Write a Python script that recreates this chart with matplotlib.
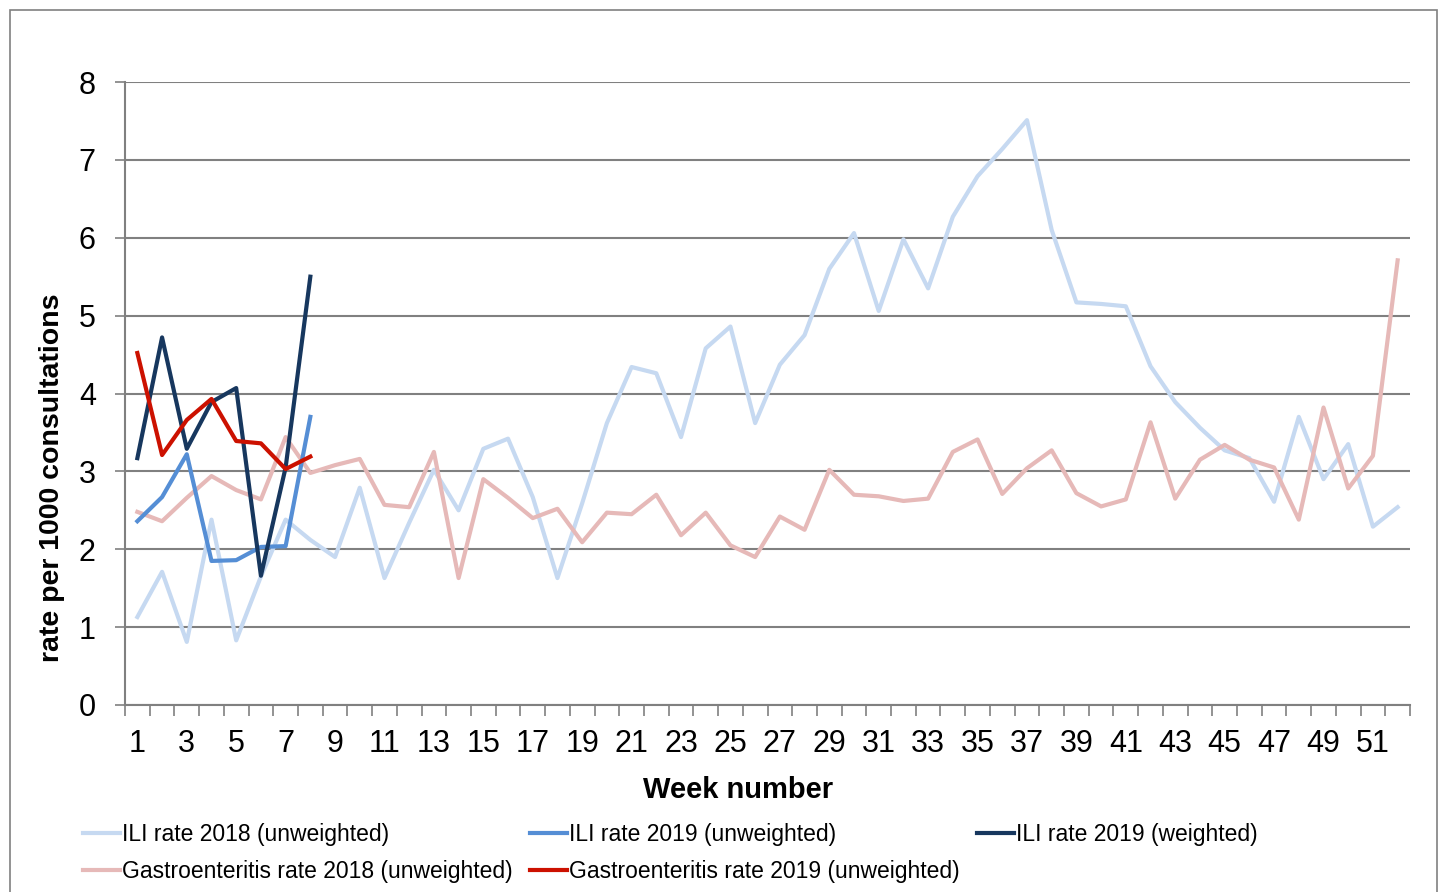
import matplotlib
matplotlib.use("Agg")
import matplotlib.pyplot as plt
from matplotlib.patches import Rectangle
from matplotlib.ticker import MultipleLocator, FixedLocator
from matplotlib import font_manager

weeks = list(range(1, 53))
weeks_2019 = list(range(1, 9))

ili_2018 = [1.13, 1.71, 0.81, 2.38, 0.83, 1.65, 2.38, 2.12, 1.90, 2.79,
            1.63, 2.34, 3.02, 2.50, 3.29, 3.42, 2.67, 1.63, 2.59, 3.62,
            4.34, 4.26, 3.44, 4.58, 4.86, 3.62, 4.37, 4.75, 5.60, 6.06,
            5.06, 5.98, 5.35, 6.27, 6.79, 7.14, 7.51, 6.10, 5.17, 5.15,
            5.12, 4.35, 3.89, 3.56, 3.27, 3.17, 2.61, 3.70, 2.90, 3.35,
            2.29, 2.54]
gastro_2018 = [2.48, 2.36, 2.66, 2.94, 2.76, 2.64, 3.44, 2.98, 3.08, 3.16,
               2.57, 2.54, 3.25, 1.63, 2.90, 2.66, 2.40, 2.52, 2.09, 2.47,
               2.45, 2.70, 2.18, 2.47, 2.05, 1.90, 2.42, 2.25, 3.02, 2.70,
               2.68, 2.62, 2.65, 3.25, 3.41, 2.71, 3.04, 3.27, 2.72, 2.55,
               2.64, 3.63, 2.65, 3.15, 3.34, 3.15, 3.05, 2.38, 3.82, 2.78,
               3.20, 5.71]
ili_2019_unw = [2.36, 2.67, 3.22, 1.85, 1.86, 2.03, 2.04, 3.70]
ili_2019_w = [3.17, 4.72, 3.29, 3.89, 4.07, 1.66, 3.05, 5.50]
gastro_2019 = [4.52, 3.21, 3.66, 3.93, 3.39, 3.36, 3.03, 3.19]

labels = ["ILI rate 2018 (unweighted)", "ILI rate 2019 (unweighted)",
          "ILI rate 2019 (weighted)", "Gastroenteritis rate 2018 (unweighted)",
          "Gastroenteritis rate 2019 (unweighted)"]
colors = ["#c6d9f1", "#558ed5", "#17375e", "#e6b9b8", "#cc1100"]

names = {f.name for f in font_manager.fontManager.ttflist}
fam = "Liberation Sans Narrow" if "Liberation Sans Narrow" in names else "Liberation Sans"
plt.rcParams['font.family'] = [fam, 'DejaVu Sans']

fig = plt.figure(figsize=(14.43, 8.92), dpi=100)
ax = fig.add_axes([125/1443, 1-705/892, (1410-125)/1443, (705-82)/892])

lw = 3.0
ax.plot(weeks, ili_2018, color=colors[0], lw=lw, label=labels[0], zorder=3)
ax.plot(weeks_2019, ili_2019_unw, color=colors[1], lw=lw, label=labels[1], zorder=4)
ax.plot(weeks_2019, ili_2019_w, color=colors[2], lw=lw, label=labels[2], zorder=5)
ax.plot(weeks, gastro_2018, color=colors[3], lw=lw, label=labels[3], zorder=3)
ax.plot(weeks_2019, gastro_2019, color=colors[4], lw=lw, label=labels[4], zorder=6)

ax.set_xlim(0.5, 52.5)
ax.set_ylim(0, 8)
ax.yaxis.set_major_locator(MultipleLocator(1))
ax.grid(axis='y', color='#808080', lw=1.5, zorder=1)
ax.set_axisbelow(True)

ax.set_xticks(weeks[::2])
ax.set_xticklabels([str(w) for w in weeks[::2]])
ax.tick_params(axis='x', which='major', length=0, pad=17, labelsize=22)
ax.xaxis.set_minor_locator(FixedLocator([w + 0.5 for w in range(0, 53)]))
ax.tick_params(axis='x', which='minor', length=8, width=1.2, color='#808080', direction='out')
ax.tick_params(axis='y', length=7, width=1.2, color='#808080', labelsize=22, pad=14)

for s in ['top', 'right']:
    ax.spines[s].set_visible(False)
for s in ['left', 'bottom']:
    ax.spines[s].set_color('#808080')
    ax.spines[s].set_linewidth(1.5)

ax.set_xlabel("Week number", fontsize=21, fontweight='bold')
ax.xaxis.set_label_coords((738-125)/1285, -(790-705)/623)
ax.xaxis.label.set_va('center')
ax.set_ylabel("rate per 1000 consultations", fontsize=20.5, fontweight='bold')
ax.yaxis.set_label_coords(-(125-52)/1285, (705-478)/623)
ax.yaxis.label.set_va('center')

handles, labs = ax.get_legend_handles_labels()
order = [0, 3, 1, 4, 2]
leg = fig.legend([handles[i] for i in order], [labs[i] for i in order],
                 loc='upper left', bbox_to_anchor=(83/1443, 1-823/892), ncol=3,
                 frameon=False, fontsize=16.5, handlelength=1.6, handletextpad=0.08,
                 columnspacing=0.79, labelspacing=0.62, borderaxespad=0, borderpad=0)

fig.patches.append(Rectangle((10/1443, -0.02), (1437-10)/1443, 1-10/892 + 0.02,
                             transform=fig.transFigure, fill=False,
                             edgecolor='#808080', lw=1.2))

fig.savefig("out.png", dpi=100)
